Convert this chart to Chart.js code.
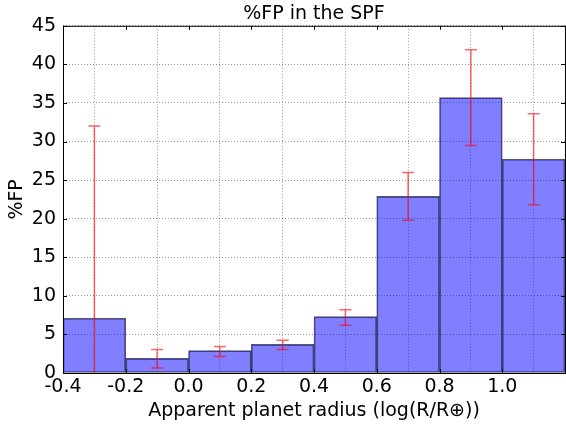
<!DOCTYPE html>
<html>
<head>
<meta charset="utf-8">
<script src="https://cdn.jsdelivr.net/npm/chart.js@4.4.0/dist/chart.umd.min.js"></script>
<style>
  html, body { margin: 0; padding: 0; background: #fff; overflow: hidden; }
  #wrap { width: 568px; height: 426px; }
</style>
</head>
<body>
<div id="wrap"><canvas id="fpChart"></canvas></div>
<script>
// bin centres of the histogram (log R / R_earth), bins are 0.2 wide
const binCenters = [-0.3, -0.1, 0.1, 0.3, 0.5, 0.7, 0.9, 1.1];
const fpPercent = [7.1, 1.9, 2.9, 3.7, 7.3, 22.9, 35.7, 27.7];
// error bar ends
const errLow = [0.0, 0.65, 2.15, 3.05, 6.2, 19.8, 29.5, 21.8];
const errHigh = [32.0, 3.05, 3.45, 4.25, 8.2, 26.0, 41.9, 33.6];

const xTicks = [-0.4, -0.2, 0.0, 0.2, 0.4, 0.6, 0.8, 1.0, 1.2];
const xTickLabels = ['-0.4', '-0.2', '0.0', '0.2', '0.4', '0.6', '0.8', '1.0', ''];

const FONT = 'DejaVu Sans';

// red error bars on top of the bars
const errorBars = {
    id: 'errorBars',
    afterDatasetsDraw(chart) {
        const { ctx, scales: { x, y } } = chart;
        ctx.save();
        ctx.strokeStyle = 'rgba(255,0,0,0.6)';
        ctx.lineWidth = 1.5;
        binCenters.forEach((c, i) => {
            const px = x.getPixelForValue(c);
            const lo = y.getPixelForValue(errLow[i]);
            const hi = y.getPixelForValue(errHigh[i]);
            ctx.beginPath();
            ctx.moveTo(px, lo);
            ctx.lineTo(px, hi);
            ctx.moveTo(px - 6, hi);
            ctx.lineTo(px + 6, hi);
            if (errLow[i] > 0) {
                ctx.moveTo(px - 6, lo);
                ctx.lineTo(px + 6, lo);
            }
            ctx.stroke();
        });
        ctx.restore();
    }
};

// black box round the plot with small inward ticks
const frame = {
    id: 'frame',
    afterDraw(chart) {
        const { ctx, chartArea: a, scales: { x, y } } = chart;
        ctx.save();
        ctx.strokeStyle = '#000';
        ctx.lineWidth = 1;
        ctx.strokeRect(a.left + 0.5, a.top + 0.5, a.right - a.left, a.bottom - a.top);
        ctx.beginPath();
        x.ticks.forEach(t => {
            const px = Math.round(x.getPixelForValue(t.value)) + 0.5;
            ctx.moveTo(px, a.top); ctx.lineTo(px, a.top + 4);
            ctx.moveTo(px, a.bottom); ctx.lineTo(px, a.bottom - 4);
        });
        y.ticks.forEach(t => {
            const py = Math.round(y.getPixelForValue(t.value)) + 0.5;
            ctx.moveTo(a.left, py); ctx.lineTo(a.left + 4, py);
            ctx.moveTo(a.right, py); ctx.lineTo(a.right - 4, py);
        });
        ctx.stroke();
        ctx.restore();
    }
};

const ctx = document.getElementById('fpChart').getContext('2d');
const fpChart = new Chart(ctx, {
    type: 'bar',
    data: {
        datasets: [{
            label: '%FP',
            data: binCenters.map((c, i) => ({ x: c, y: fpPercent[i] })),
            backgroundColor: 'rgba(0,0,255,0.5)',
            borderColor: 'rgba(0,0,0,0.65)',
            borderWidth: 1,
            borderSkipped: false,
            barPercentage: 1,
            categoryPercentage: 1
        }]
    },
    options: {
        responsive: true,
        maintainAspectRatio: false,
        animation: false,
        layout: { padding: 0 },
        scales: {
            x: {
                type: 'linear',
                min: -0.4,
                max: 1.2,
                offset: false,
                afterBuildTicks: s => { s.ticks = xTicks.map(v => ({ value: v })); },
                afterFit: s => { s.height = 53; },
                grid: { color: 'rgba(0,0,0,0.4)', drawTicks: false },
                border: { display: false, dash: [1, 2] },
                ticks: {
                    autoSkip: false,
                    maxRotation: 0,
                    padding: 3,
                    color: '#000',
                    font: { family: FONT, size: 19 },
                    callback: (v, i) => xTickLabels[i]
                },
                title: {
                    display: true,
                    text: 'Apparent planet radius (log(R/R\u2295))',
                    color: '#000',
                    font: { family: FONT, size: 19 },
                    padding: { top: 0, bottom: 4 }
                }
            },
            y: {
                min: 0,
                max: 45,
                afterFit: s => { s.width = 63; },
                grid: { color: 'rgba(0,0,0,0.4)', drawTicks: false },
                border: { display: false, dash: [1, 2] },
                ticks: {
                    stepSize: 5,
                    padding: 7,
                    color: '#000',
                    font: { family: FONT, size: 19 }
                },
                title: {
                    display: true,
                    text: '%FP',
                    color: '#000',
                    font: { family: FONT, size: 19 },
                    padding: { top: 6, bottom: 0 }
                }
            }
        },
        plugins: {
            legend: { display: false },
            tooltip: { enabled: false },
            title: {
                display: true,
                fullSize: false,
                text: '%FP in the SPF',
                color: '#000',
                font: { family: FONT, size: 19, weight: 'normal' },
                padding: { top: 3, bottom: 0 }
            }
        }
    },
    plugins: [errorBars, frame]
});
</script>
</body>
</html>
